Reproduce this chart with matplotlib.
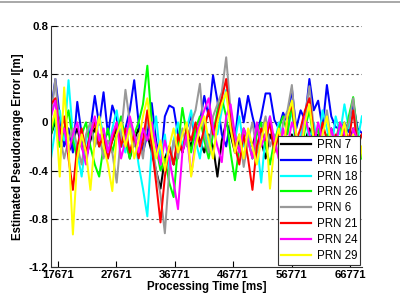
import numpy as np
import matplotlib
matplotlib.use("Agg")
import matplotlib.pyplot as plt
from matplotlib.lines import Line2D

# ==============================
# Data
# ==============================

t0 = 16470
dt = 750
n_pts = 72
time_ms = t0 + dt * np.arange(n_pts)

prn_7 = [-0.10, 0.00, -0.20, -0.10, -0.25, -0.15, -0.05, -0.20, -0.30, -0.15,
         -0.05, -0.20, -0.10, -0.25, -0.15, -0.05, -0.20, -0.10, -0.30, -0.15,
         -0.05, -0.20, -0.10, -0.25, -0.40, -0.55, -0.30, -0.20, -0.35, -0.15,
         -0.25, -0.10, -0.20, -0.05, -0.15, -0.25, -0.10, -0.20, -0.45, -0.15,
         0.00, -0.10, -0.25, -0.15, -0.30, -0.10, -0.20, -0.05, -0.15, -0.30,
         -0.10, -0.20, -0.05, -0.15, -0.25, -0.10, -0.20, -0.35, -0.15, -0.05,
         -0.20, -0.10, -0.25, -0.15, -0.05, -0.20, -0.30, -0.10, -0.20, -0.05,
         -0.15, -0.10]

prn_16 = [0.10, 0.36, 0.05, -0.20, -0.05, -0.25, 0.17, -0.10, -0.30, -0.05,
          0.22, -0.02, 0.25, -0.10, 0.14, 0.03, -0.20, -0.05, 0.10, 0.35,
          0.00, -0.25, -0.10, 0.16, -0.15, -0.35, 0.05, 0.14, 0.12, -0.10,
          -0.25, -0.05, 0.05, -0.15, 0.00, 0.22, 0.05, 0.39, 0.18, -0.10,
          -0.20, 0.02, -0.15, 0.20, 0.00, 0.22, 0.05, -0.10, 0.05, 0.24,
          0.24, 0.02, -0.05, 0.08, 0.00, 0.28, -0.05, 0.10, 0.02, 0.36,
          0.10, 0.18, -0.05, 0.31, 0.05, -0.04, -0.05, 0.00, -0.08, 0.16,
          -0.05, -0.09]

prn_18 = [-0.30, -0.05, 0.10, -0.15, 0.35, -0.10, -0.25, -0.45, -0.15, 0.00,
          -0.20, 0.05, -0.10, -0.30, -0.05, 0.10, -0.15, -0.25, 0.00, -0.10,
          -0.35, -0.55, -0.78, -0.20, 0.05, -0.30, -0.10, -0.40, -0.15, 0.00,
          -0.20, -0.05, 0.10, -0.15, -0.30, -0.05, -0.20, 0.00, -0.10, 0.10,
          0.27, 0.00, -0.15, 0.05, -0.20, -0.10, -0.30, -0.15, -0.50, -0.10,
          0.05, -0.20, 0.00, -0.15, -0.05, 0.10, -0.25, -0.10, 0.05, -0.15,
          0.00, -0.20, 0.10, -0.05, -0.25, 0.05, -0.10, 0.15, -0.05, 0.10,
          -0.15, 0.05]

prn_26 = [-0.10, 0.05, -0.20, -0.05, 0.10, -0.15, -0.30, -0.10, 0.00, -0.20,
          -0.35, -0.45, -0.20, -0.05, -0.25, -0.10, 0.05, -0.15, -0.30, -0.10,
          0.00, 0.15, 0.47, 0.00, -0.20, -0.40, -0.30, -0.50, -0.62, -0.20,
          0.12, -0.10, -0.25, -0.05, 0.05, -0.15, -0.30, -0.10, 0.10, 0.20,
          0.05, -0.25, -0.48, -0.20, -0.05, -0.15, -0.30, -0.10, 0.00, -0.20,
          -0.35, -0.15, -0.05, 0.05, -0.10, 0.15, -0.20, -0.30, -0.05, 0.10,
          -0.15, -0.05, -0.25, -0.10, -0.30, -0.15, 0.00, -0.20, 0.05, 0.21,
          -0.10, -0.30]

prn_6 = [0.05, 0.36, -0.10, -0.30, -0.15, -0.05, -0.20, -0.35, -0.10, 0.00,
         -0.20, -0.10, -0.30, -0.15, -0.25, -0.50, -0.10, 0.27, 0.00, -0.20,
         -0.10, -0.30, 0.05, -0.15, -0.40, -0.60, -0.92, -0.40, -0.15, -0.30,
         -0.05, -0.20, 0.00, 0.10, 0.32, -0.10, -0.25, 0.05, 0.15, 0.25,
         0.54, 0.10, -0.20, -0.10, -0.37, -0.15, 0.00, -0.25, -0.10, 0.05,
         -0.20, -0.10, -0.30, 0.00, 0.10, 0.31, -0.10, -0.20, 0.05, 0.30,
         -0.05, -0.25, -0.10, 0.10, -0.15, -0.35, -0.20, -0.10, 0.00, 0.20,
         -0.15, -0.25]

prn_21 = [0.15, 0.20, -0.10, 0.05, -0.30, -0.56, -0.20, -0.05, -0.25, -0.10,
          0.00, -0.20, -0.10, -0.30, -0.15, 0.00, -0.20, -0.05, -0.25, -0.10,
          -0.30, -0.15, 0.10, -0.20, -0.50, -0.83, -0.45, -0.20, -0.35, -0.10,
          -0.25, -0.05, -0.15, 0.00, -0.20, -0.05, 0.10, -0.10, 0.05, 0.20,
          0.36, 0.00, -0.20, -0.35, -0.10, -0.30, -0.56, -0.20, -0.05, -0.15,
          0.00, -0.25, -0.10, -0.30, 0.05, 0.15, -0.15, -0.05, 0.10, 0.20,
          -0.10, -0.20, 0.00, -0.15, -0.30, -0.10, -0.25, -0.05, -0.15, 0.10,
          -0.20, -0.10]

prn_24 = [0.05, 0.18, -0.15, -0.05, -0.25, -0.10, 0.00, -0.20, -0.35, -0.10,
          0.05, -0.15, -0.05, -0.25, -0.10, 0.00, -0.30, -0.15, 0.05, -0.10,
          -0.25, -0.05, -0.15, 0.00, -0.20, -0.35, -0.15, -0.30, -0.50, -0.72,
          -0.25, -0.10, -0.44, -0.15, 0.00, 0.10, 0.20, -0.05, -0.20, -0.33,
          0.05, 0.15, -0.10, -0.25, -0.05, -0.15, -0.30, 0.00, -0.20, -0.10,
          0.05, -0.15, -0.30, -0.05, -0.20, 0.00, -0.10, -0.25, 0.05, -0.10,
          -0.20, 0.00, -0.15, -0.30, -0.05, -0.20, 0.00, -0.10, -0.30, -0.05,
          -0.15, -0.25]

prn_29 = [-0.05, 0.10, -0.45, 0.29, -0.20, -0.93, -0.30, -0.10, -0.25, -0.56,
          -0.15, 0.05, -0.20, -0.35, -0.57, -0.10, 0.00, -0.20, -0.05, -0.30,
          -0.15, 0.05, 0.20, -0.10, -0.30, -0.15, -0.40, -0.20, -0.05, -0.25,
          -0.10, 0.00, -0.45, -0.20, -0.05, 0.05, -0.15, -0.30, 0.00, 0.15,
          0.25, -0.05, -0.25, -0.10, -0.30, -0.05, -0.20, -0.35, -0.15, 0.00,
          -0.55, -0.20, -0.05, -0.25, 0.05, 0.18, -0.10, -0.25, 0.00, 0.15,
          -0.15, -0.30, -0.10, 0.05, -0.20, -0.40, -0.15, 0.00, -0.25, -0.10,
          -0.45, -0.20]

series = [prn_7, prn_16, prn_18, prn_26, prn_6, prn_21, prn_24, prn_29]
labels = ["PRN 7", "PRN 16", "PRN 18", "PRN 26", "PRN 6", "PRN 21", "PRN 24", "PRN 29"]
colors = ["black", "#0000ff", "#00ffff", "#00ff00", "#999999", "#ff0000", "#ff00ff", "#ffff00"]

x_tick_pos = [17671, 27671, 37671, 47671, 57671, 67671]
x_tick_labels = ["17671", "27671", "36771", "46771", "56771", "66771"]
y_ticks = [-1.2, -0.8, -0.4, 0, 0.4, 0.8]
y_tick_labels = ["-1.2", "-0.8", "-0.4", "0", "0.4", "0.8"]

# ==============================
# Plot
# ==============================

plt.rcParams["font.family"] = ["Liberation Sans", "DejaVu Sans"]

fig = plt.figure(figsize=(4.0, 3.05), dpi=100)
ax = fig.add_axes([0.1275, 0.1246, 0.7775, 0.7903])

for vals, lab, col in zip(series, labels, colors):
    ax.plot(time_ms, vals, color=col, lw=1.45, label=lab)

ax.set_xlim(16470, 69730)
ax.set_ylim(-1.2, 0.8)
ax.set_xticks(x_tick_pos)
ax.set_xticklabels(x_tick_labels)
ax.set_yticks(y_ticks)
ax.set_yticklabels(y_tick_labels)

for yv in y_ticks[1:]:
    ax.axhline(yv, color="#555555", lw=0.8, ls=(0, (2, 2.5)), zorder=0.5)

ax.spines["top"].set_visible(False)
ax.spines["right"].set_visible(False)
ax.spines["left"].set_color("#333333")
ax.spines["bottom"].set_color("#333333")
ax.tick_params(direction="in", length=4, width=0.8, labelsize=8.2, pad=2)
for t in ax.get_xticklabels() + ax.get_yticklabels():
    t.set_fontweight("bold")

ax.set_xlabel("Processing Time [ms]", fontsize=8.3, fontweight="bold", labelpad=1)
ax.set_ylabel("Estimated Pseudorange Error l[m]", fontsize=8.3, fontweight="bold", labelpad=3)

leg = ax.legend(loc="lower right", bbox_to_anchor=(0.995, 0.01), fontsize=8.3,
                frameon=True, fancybox=False, edgecolor="#333333", framealpha=1,
                handlelength=2.6, handletextpad=0.5, labelspacing=0.33,
                borderpad=0.25, borderaxespad=0.0)
leg.get_frame().set_linewidth(0.8)
for line in leg.get_lines():
    line.set_linewidth(1.6)

# gray border line at the top of the picture
fig.add_artist(Line2D([0, 1], [0.993, 0.993], color="#999999", lw=1.2))

fig.savefig("out.png", dpi=100)
